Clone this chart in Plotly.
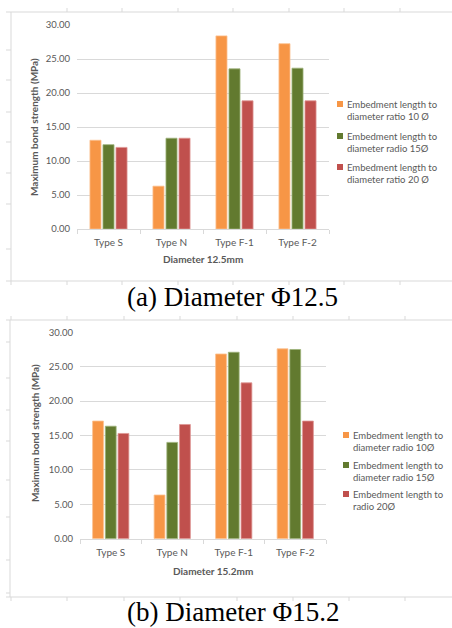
import plotly.graph_objects as go

W, H = 452, 628

categories = ["Type S", "Type N", "Type F-1", "Type F-2"]

# Chart (a) Diameter 12.5 mm
a_series_names = [
    "Embedment length to<br>diameter ratio 10 Ø",
    "Embedment length to<br>diameter radio 15Ø",
    "Embedment length to<br>diameter ratio 20 Ø",
]
a_ratio10 = [13.05, 6.3, 28.4, 27.25]
a_ratio15 = [12.4, 13.35, 23.55, 23.65]
a_ratio20 = [12.0, 13.35, 18.85, 18.85]

# Chart (b) Diameter 15.2 mm
b_series_names = [
    "Embedment length to<br>diameter radio 10Ø",
    "Embedment length to<br>diameter radio 15Ø",
    "Embedment length to<br>radio 20Ø",
]
b_ratio10 = [17.1, 6.35, 26.85, 27.6]
b_ratio15 = [16.35, 14.0, 27.1, 27.5]
b_ratio20 = [15.3, 16.6, 22.65, 17.1]

colors = ["#F79646", "#627A2F", "#C0504D"]
edge_colors = ["#FBC08F", "#9DB27A", "#DE9593"]

y_ticks = [0, 5, 10, 15, 20, 25, 30]

FONT = "Lato"
GRAY = "#595959"
GRID = "#D9D9D9"


def px(xp):
    return xp / W


def py(yp):
    return 1 - yp / H


fig = go.Figure()

for vals, name, c, ec in zip([a_ratio10, a_ratio15, a_ratio20], a_series_names, colors, edge_colors):
    fig.add_trace(go.Bar(x=categories, y=vals, name=name, marker=dict(color=c, line=dict(color=ec, width=0.8)),
                         xaxis="x", yaxis="y", showlegend=False))
for vals, name, c, ec in zip([b_ratio10, b_ratio15, b_ratio20], b_series_names, colors, edge_colors):
    fig.add_trace(go.Bar(x=categories, y=vals, name=name, marker=dict(color=c, line=dict(color=ec, width=0.8)),
                         xaxis="x2", yaxis="y2", showlegend=False))

axis_common_x = dict(
    type="category", showgrid=False, showline=True, linecolor=GRID, linewidth=1,
    ticks="outside", tickson="boundaries", ticklen=4, tickcolor=GRID, ticklabelstandoff=4,
    tickfont=dict(family=FONT, size=10, color=GRAY), fixedrange=True,
)
axis_common_y = dict(
    range=[0, 30], tickvals=y_ticks, tickformat=".2f", showgrid=True, gridcolor=GRID, gridwidth=1,
    zeroline=False, showline=False, ticks="", ticklabelstandoff=6,
    tickfont=dict(family=FONT, size=9.5, color=GRAY), fixedrange=True,
)

fig.update_layout(
    width=W, height=H, margin=dict(l=0, r=0, t=0, b=0, autoexpand=False),
    paper_bgcolor="white", plot_bgcolor="white",
    barmode="group", bargap=0.38, bargroupgap=0.15,
    showlegend=False,
    xaxis=dict(domain=[px(77), px(329)], anchor="y", **axis_common_x),
    yaxis=dict(domain=[py(229), py(25)], anchor="x", **axis_common_y),
    xaxis2=dict(domain=[px(80), px(326)], anchor="y2", **axis_common_x),
    yaxis2=dict(domain=[py(538.7), py(332.3)], anchor="x2", **axis_common_y),
)

annotations = []
shapes = []

# axis titles
for xc, yc, txt in [(34, 127, "Maximum bond strength (MPa)"), (35, 433, "Maximum bond strength (MPa)")]:
    annotations.append(dict(x=px(xc), y=py(yc), xref="paper", yref="paper", text="<b>" + txt + "</b>",
                            textangle=-90, showarrow=False, xanchor="center", yanchor="middle",
                            font=dict(family=FONT, size=10, color=GRAY)))
for xc, yc, txt in [(203, 259, "Diameter 12.5mm"), (213, 571, "Diameter 15.2mm")]:
    annotations.append(dict(x=px(xc), y=py(yc), xref="paper", yref="paper", text="<b>" + txt + "</b>",
                            showarrow=False, xanchor="center", yanchor="middle",
                            font=dict(family=FONT, size=10, color=GRAY)))

# captions
annotations.append(dict(x=px(232), y=py(297), xref="paper", yref="paper", text="(a) Diameter Φ12.5",
                        showarrow=False, xanchor="center", yanchor="middle",
                        font=dict(family="Liberation Serif", size=27, color="black")))
annotations.append(dict(x=px(233), y=0, xref="paper", yref="paper", text="(b) Diameter Φ15.2",
                        showarrow=False, xanchor="center", yanchor="bottom", borderpad=0,
                        font=dict(family="Liberation Serif", size=27, color="black")))

# legends (Excel style: small square + two-line label)
legend_a = [(104, 117), (136, 148), (167, 180)]
legend_b = [(435, 448), (465, 477), (494, 507)]
for names, rows, sq_x, tx in [(a_series_names, legend_a, 337, 345), (b_series_names, legend_b, 343, 351)]:
    for name, (y1, y2), c in zip(names, rows, colors):
        shapes.append(dict(type="rect", xref="paper", yref="paper", x0=px(sq_x), x1=px(sq_x + 6),
                           y0=py(y1 + 3), y1=py(y1 - 3), fillcolor=c, line=dict(width=0)))
        annotations.append(dict(x=px(tx), y=py((y1 + y2) / 2), xref="paper", yref="paper", text=name,
                                showarrow=False, xanchor="left", yanchor="middle", align="left",
                                font=dict(family=FONT, size=9.5, color=GRAY)))


# spreadsheet frame decorations
def hline(y, x0, x1):
    shapes.append(dict(type="line", xref="paper", yref="paper", x0=px(x0), x1=px(x1), y0=py(y), y1=py(y),
                       line=dict(color=GRID, width=1)))


def vline(x, y0, y1):
    shapes.append(dict(type="line", xref="paper", yref="paper", x0=px(x), x1=px(x), y0=py(y0), y1=py(y1),
                       line=dict(color=GRID, width=1)))


# top frame
hline(12, 6, 452)
vline(11, 12, 281)
hline(281, 6, 452)
for x in [67, 122, 178, 233, 289, 344, 400]:
    vline(x, 8, 12)
for x in [11, 67, 122, 178, 233, 289, 344, 400]:
    vline(x, 281, 285)
for y in [50, 80, 112, 142, 173, 204, 249]:
    hline(y, 6, 11)

# bottom frame
hline(320, 6, 452)
vline(10, 320, 597)
hline(597, 6, 452)
for x in [11, 67, 124, 180, 237, 293, 349, 405]:
    vline(x, 316, 320)
    vline(x, 597, 601)
for y in [342, 378, 410, 441, 480, 517, 560, 593]:
    hline(y, 6, 10)

fig.update_layout(annotations=annotations, shapes=shapes)

fig.write_html(
    "out.html",
    config={"displayModeBar": False},
    post_script="document.body.style.margin='0';document.body.style.padding='0';"
                "document.body.style.overflow='hidden';",
)
